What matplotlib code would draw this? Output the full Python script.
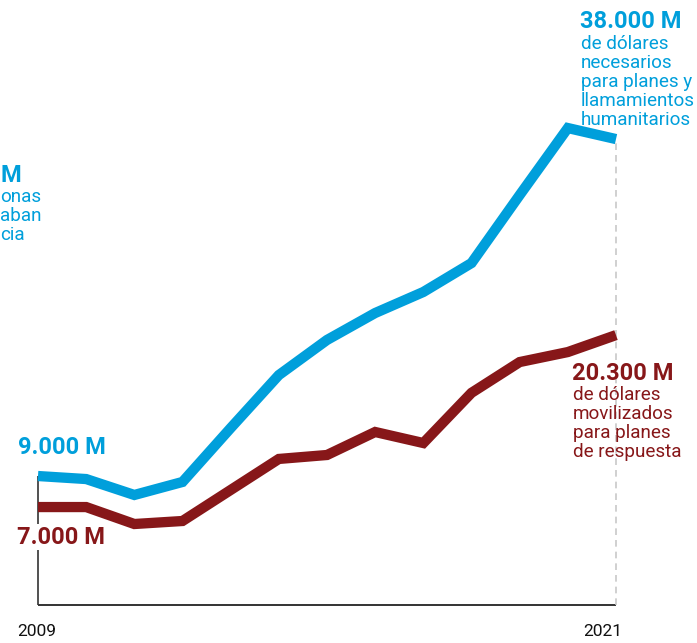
import matplotlib
matplotlib.use('Agg')
import matplotlib.pyplot as plt

# data (millions of dollars)
years = list(range(2009, 2022))
needed = [9000, 8740, 7370, 8490, 13130, 17690, 20710, 23030, 24840,
          27330, 33180, 38950, 38000]
funded = [6330, 6330, 4870, 5130, 7800, 10470, 10810, 12790, 11840,
          16160, 18810, 19670, 21130]
year_labels = ['2009', '2021']

BLUE = '#009fdb'
RED = '#871719'
W, H = 697, 643

plt.rcParams['font.family'] = ['Roboto', 'DejaVu Sans']

fig = plt.figure(figsize=(W / 100, H / 100), dpi=100)
ax = fig.add_axes([38 / W, 38 / H, 578 / W, 605 / H])
ax.set_xlim(2009, 2021)
ax.set_ylim(-2100, 49970)
ax.axis('off')


def px(x, y):
    # pixel position -> figure fraction
    return x / W, 1 - y / H


# axis lines
ax.plot([years[0], years[-1]], [-2100, -2100], color='#333333', lw=1.4,
        solid_capstyle='butt', clip_on=False)
ax.plot([years[0], years[0]], [-2100, needed[0]], color='#333333', lw=1.2,
        solid_capstyle='butt', clip_on=False)
ax.plot([years[-1], years[-1]], [-2100, needed[-1]], color='#c8c8c8', lw=1.2,
        ls=(0, (4, 3)), clip_on=False)

ax.plot(years, needed, color=BLUE, lw=7.4, solid_capstyle='butt',
        solid_joinstyle='miter', clip_on=False)
ax.plot(years, funded, color=RED, lw=7.4, solid_capstyle='butt',
        solid_joinstyle='miter', clip_on=False)

# labels
big = dict(fontsize=17, fontweight='bold', va='center')
body = dict(fontsize=13.6, va='top', linespacing=1.08)

fig.text(*px(580, 22), '38.000 M', color=BLUE, ha='left', **big)
fig.text(*px(581, 35), 'de dólares\nnecesarios\npara planes y\n'
         'llamamientos\nhumanitarios', color=BLUE, ha='left', **body)

fig.text(*px(572, 374), '20.300 M', color=RED, ha='left', **big)
fig.text(*px(573, 386), 'de dólares\nmovilizados\npara planes\n'
         'de respuesta', color=RED, ha='left', **body)

fig.text(*px(18, 448), '9.000 M', color=BLUE, ha='left', **big)
fig.text(*px(17, 537), '7.000 M', color=RED, ha='left',
         bbox=dict(facecolor='white', edgecolor='none', pad=1), **big)

# visible end of the label from the neighbouring panel
fig.text(*px(0, 176), 'M', color=BLUE, ha='left', **big)
fig.text(*px(0, 188), 'onas\naban\ncia', color=BLUE, ha='left', **body)

fig.text(*px(37, 632), year_labels[0], ha='center', va='center',
         fontsize=12.5, color='#111111')
fig.text(*px(603, 632), year_labels[1], ha='center', va='center',
         fontsize=12.5, color='#111111')

fig.savefig('out.png', dpi=100)
